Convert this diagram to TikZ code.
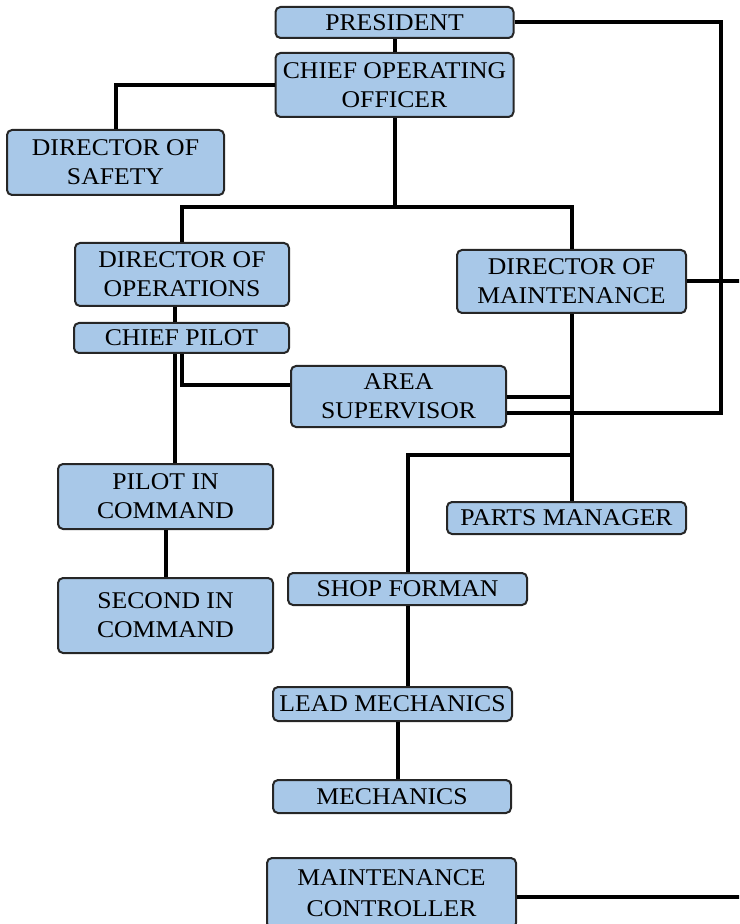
\documentclass[tikz,border=0pt]{standalone}
\usepackage{fontspec}
\setmainfont{Liberation Serif}[FakeStretch=1.07]
\usetikzlibrary{shapes,arrows}
\definecolor{boxblue}{RGB}{168,200,232}

\begin{document}
\begin{tikzpicture}[x=0.5pt,y=-0.5pt,
  box/.style={rectangle, rounded corners=2.5pt, draw=black!85, line width=1pt, fill=boxblue, align=center, inner sep=0pt, font=\fontsize{12}{14.5}\selectfont},
  wire/.style={draw, line width=2pt}]
\clip (0,0) rectangle (739,924);
\node[box, minimum width=119pt, minimum height=15.5pt] (pres) at (394.5,22.5) {PRESIDENT};
\node[box, minimum width=119pt, minimum height=32pt] (coo) at (394.5,85) {CHIEF OPERATING\\OFFICER};
\node[box, minimum width=108.5pt, minimum height=32.5pt] (safe) at (115.5,162.5) {DIRECTOR OF\\SAFETY};
\node[box, minimum width=107pt, minimum height=31.5pt] (ops) at (182,274.5) {DIRECTOR OF\\OPERATIONS};
\node[box, minimum width=114.5pt, minimum height=31.5pt] (mnt) at (571.5,281.5) {DIRECTOR OF\\MAINTENANCE};
\node[box, minimum width=107.5pt, minimum height=15pt] (cp) at (181.5,338) {CHIEF PILOT};
\node[box, minimum width=107.5pt, minimum height=30.5pt] (area) at (398.5,396.5) {AREA\\SUPERVISOR};
\node[box, minimum width=107.5pt, minimum height=32.5pt] (pic) at (165.5,496.5) {PILOT IN\\COMMAND};
\node[box, minimum width=107.5pt, minimum height=37.5pt] (sic) at (165.5,615.5) {SECOND IN\\COMMAND};
\node[box, minimum width=119.5pt, minimum height=16pt] (parts) at (566.5,518) {PARTS MANAGER};
\node[box, minimum width=119.5pt, minimum height=16pt] (shop) at (407.5,589) {SHOP FORMAN};
\node[box, minimum width=119.5pt, minimum height=17pt] (lead) at (392.5,704) {LEAD MECHANICS};
\node[box, minimum width=119pt, minimum height=16.5pt] (mech) at (392,796.5) {MECHANICS};
\node[box, minimum width=124.5pt, minimum height=35pt] (ctrl) at (391.5,893) {MAINTENANCE\\[1pt]CONTROLLER};
\coordinate (bus) at (394.5,207);
\coordinate (rt) at (721,200);
\coordinate (tap) at (572,455);
\coordinate (rim) at (745,0);
\path[wire] (pres) -- (coo);
\path[wire] (coo.west) -| (safe.north);
\path[wire] (coo.south) -- (bus);
\path[wire] (ops.north) |- (bus) -| (mnt.north);
\path[wire] ([xshift=-3.5pt]ops.south) -- ([xshift=-3.5pt]ops.south |- cp.north);
\path[wire] ([xshift=-3.25pt]cp.south) -- ([xshift=-3.25pt]cp.south |- pic.north);
\path[wire] (cp.south) |- ([yshift=5.75pt]area.west);
\path[wire] (pic.south) -- (sic.north);
\path[wire] (mnt.south) -- (mnt.south |- parts.north);
\path[wire] (area.east) -- (area.east -| mnt.south);
\path[wire] (pres.east) -| (rt) |- ([yshift=-8.25pt]area.east);
\path[wire] (mnt.east) -- (mnt.east -| rim);
\path[wire] (tap) -| (shop.north);
\path[wire] (shop.south) -- (shop.south |- lead.north);
\path[wire] ([xshift=2.75pt]lead.south) -- ([xshift=2.75pt]lead.south |- mech.north);
\path[wire] ([yshift=-2pt]ctrl.east) -- ([yshift=-2pt]ctrl.east -| rim);
\end{tikzpicture}
\end{document}
